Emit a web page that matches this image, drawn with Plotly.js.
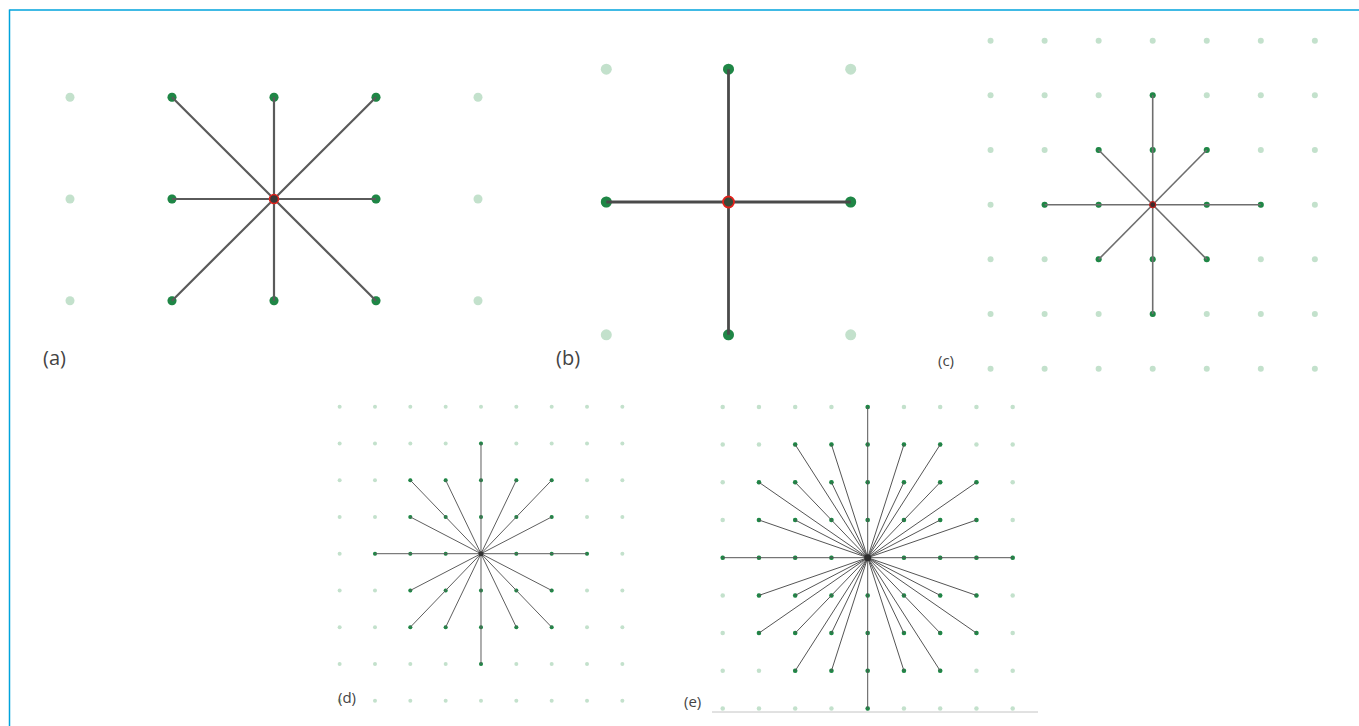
<!DOCTYPE html>
<html>
<head>
<meta charset="utf-8">
<script src="https://cdn.plot.ly/plotly-3.0.1.min.js"></script>
<style>html,body{margin:0;padding:0;background:#fff;}#chart{width:1359px;height:726px;}</style>
</head>
<body>
<div id="chart"></div>
<script>
// ---- data: grid offsets (dx right, dy down) ----
const labels = ['(a)', '(b)', '(c)', '(d)', '(e)'];

const colsA = [-2, -1, 0, 1, 2];
const rowsA = [-1, 0, 1];
const linksA = [[-1,-1],[0,-1],[1,-1],[-1,0],[1,0],[-1,1],[0,1],[1,1]];
const extraA = [];

const colsB = [-1, 0, 1];
const rowsB = [-1, 0, 1];
const linksB = [[0,-1],[-1,0],[1,0],[0,1]];
const extraB = [];

const colsC = [-3, -2, -1, 0, 1, 2, 3];
const rowsC = [-3, -2, -1, 0, 1, 2, 3];
const linksC = [[0,-2],[0,2],[-2,0],[2,0],[-1,-1],[1,-1],[-1,1],[1,1]];
const extraC = [[0,-1],[0,1],[-1,0],[1,0]];

const colsD = [-4, -3, -2, -1, 0, 1, 2, 3, 4];
const rowsD = [-4, -3, -2, -1, 0, 1, 2, 3, 4];
const linksD = [[0,-3],[0,3],[-3,0],[3,0],[-2,-2],[2,-2],[-2,2],[2,2],
                [-1,-2],[1,-2],[-1,2],[1,2],[-2,-1],[2,-1],[-2,1],[2,1]];
const extraD = [[0,-1],[0,-2],[0,1],[0,2],[-1,0],[-2,0],[1,0],[2,0],[-1,-1],[1,-1],[-1,1],[1,1]];

const colsE = [-4, -3, -2, -1, 0, 1, 2, 3, 4];
const rowsE = [-4, -3, -2, -1, 0, 1, 2, 3, 4];
const linksE = [[0,-4],[0,4],[-4,0],[4,0],[-2,-2],[2,-2],[-2,2],[2,2],
                [-1,-2],[1,-2],[-1,2],[1,2],[-2,-1],[2,-1],[-2,1],[2,1],
                [-1,-3],[1,-3],[-1,3],[1,3],[-3,-1],[3,-1],[-3,1],[3,1],
                [-2,-3],[2,-3],[-2,3],[2,3],[-3,-2],[3,-2],[-3,2],[3,2]];
const extraE = [[0,-1],[0,-2],[0,-3],[0,1],[0,2],[0,3],[-1,0],[-2,0],[-3,0],[1,0],[2,0],[3,0],
                [-1,-1],[1,-1],[-1,1],[1,1]];

// ---- layout / styling ----
const W = 1359, H = 726;
const DARK = '#1f8646', FADE = '#c3e1cc';
const panels = [
  {cols: colsA, rows: rowsA, links: linksA, extra: extraA, cx: 274, cy: 199, sx: 102, sy: 101.7,
   dot: 9, lw: 2.2, lc: '#5a5a5a', cen: {size: 9, color: '#3a3a3a', line: '#e3221c', lw: 1.5},
   lab: {x: 54, y: 357, size: 20}},
  {cols: colsB, rows: rowsB, links: linksB, extra: extraB, cx: 728.5, cy: 202, sx: 122.2, sy: 132.8,
   dot: 11, lw: 2.8, lc: '#4a4a4a', cen: {size: 11, color: '#3a4a3a', line: '#e3221c', lw: 1.8},
   lab: {x: 568, y: 357, size: 20}},
  {cols: colsC, rows: rowsC, links: linksC, extra: extraC, cx: 1152.7, cy: 204.7, sx: 54.05, sy: 54.67,
   dot: 6, lw: 1.6, lc: '#6e6e6e', cen: {size: 6, color: '#3a2a2a', line: '#c0201c', lw: 1.2},
   lab: {x: 946, y: 360, size: 15}},
  {cols: colsD, rows: rowsD, links: linksD, extra: extraD, cx: 481, cy: 553.7, sx: 35.34, sy: 36.75,
   dot: 4, lw: 1, lc: '#5e5e5e', cen: {size: 5, color: '#333333', line: '#333333', lw: 0},
   lab: {x: 347, y: 697, size: 15}},
  {cols: colsE, rows: rowsE, links: linksE, extra: extraE, cx: 867.7, cy: 557.7, sx: 36.25, sy: 37.7,
   dot: 4.5, lw: 1, lc: '#555555', cen: {size: 7, color: '#2e2e2e', line: '#2e2e2e', lw: 0},
   lab: {x: 692, y: 701, size: 15}}
];

const traces = [];
const layout = {
  width: W, height: H, margin: {l: 0, r: 0, t: 0, b: 0},
  paper_bgcolor: '#ffffff', plot_bgcolor: 'rgba(0,0,0,0)',
  showlegend: false, hovermode: false,
  shapes: [], annotations: []
};

panels.forEach((p, i) => {
  const k = i === 0 ? '' : String(i + 1);
  const xa = 'x' + k, ya = 'y' + k;
  const nx = Math.max(...p.cols.map(Math.abs)) + 0.3;
  const ny = Math.max(...p.rows.map(Math.abs)) + 0.3;
  layout['xaxis' + k] = {
    domain: [(p.cx - nx * p.sx) / W, (p.cx + nx * p.sx) / W],
    range: [-nx, nx], visible: false, fixedrange: true, anchor: ya
  };
  layout['yaxis' + k] = {
    domain: [1 - (p.cy + ny * p.sy) / H, 1 - (p.cy - ny * p.sy) / H],
    range: [ny, -ny], visible: false, fixedrange: true, anchor: xa
  };
  // faded grid
  const gx = [], gy = [];
  p.rows.forEach(r => p.cols.forEach(c => { gx.push(c); gy.push(r); }));
  traces.push({type: 'scatter', mode: 'markers', x: gx, y: gy, xaxis: xa, yaxis: ya,
    marker: {size: p.dot, color: FADE}, cliponaxis: false});
  // dark neighbours
  const dk = p.links.concat(p.extra);
  traces.push({type: 'scatter', mode: 'markers', x: dk.map(d => d[0]), y: dk.map(d => d[1]),
    xaxis: xa, yaxis: ya, marker: {size: p.dot, color: DARK}, cliponaxis: false});
  // links
  const lx = [], ly = [];
  p.links.forEach(d => { lx.push(0, d[0], null); ly.push(0, d[1], null); });
  traces.push({type: 'scatter', mode: 'lines', x: lx, y: ly, xaxis: xa, yaxis: ya,
    line: {color: p.lc, width: p.lw}, cliponaxis: false});
  // centre
  traces.push({type: 'scatter', mode: 'markers', x: [0], y: [0], xaxis: xa, yaxis: ya,
    marker: {size: p.cen.size, color: p.cen.color, line: {color: p.cen.line, width: p.cen.lw}},
    cliponaxis: false});
  layout.annotations.push({text: labels[i], xref: 'paper', yref: 'paper',
    x: p.lab.x / W, y: 1 - p.lab.y / H, xanchor: 'center', yanchor: 'middle', showarrow: false,
    font: {family: 'Open Sans, Noto Sans, sans-serif', size: p.lab.size, color: '#444444'}});
});

// frame lines (blue border, grey baseline under (e))
layout.shapes.push(
  {type: 'line', xref: 'paper', yref: 'paper', x0: 9.5 / W, x1: 9.5 / W, y0: 0, y1: 1 - 9.5 / H,
   line: {color: '#00a3dc', width: 1.5}},
  {type: 'line', xref: 'paper', yref: 'paper', x0: 9.5 / W, x1: 1, y0: 1 - 10 / H, y1: 1 - 10 / H,
   line: {color: '#00a3dc', width: 1.5}},
  {type: 'line', xref: 'paper', yref: 'paper', x0: 712 / W, x1: 1038 / W, y0: 1 - 712 / H, y1: 1 - 712 / H,
   line: {color: '#c4c4c4', width: 1}}
);

Plotly.newPlot('chart', traces, layout, {staticPlot: true, displayModeBar: false});
</script>
</body>
</html>
